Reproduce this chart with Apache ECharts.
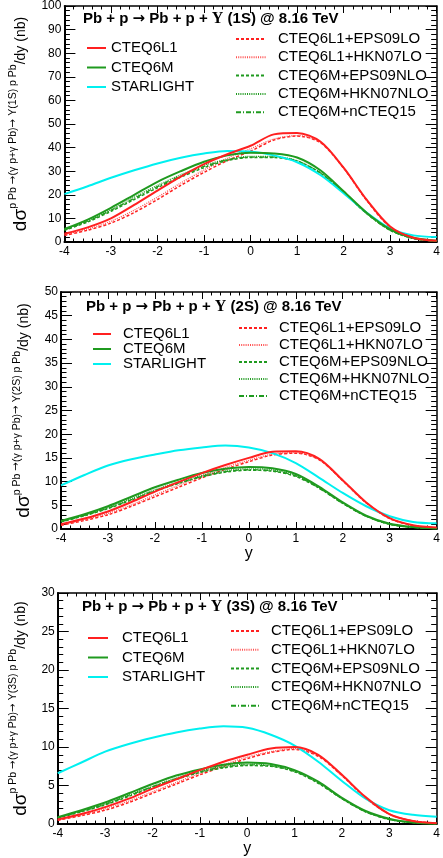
<!DOCTYPE html>
<html>
<head>
<meta charset="utf-8">
<script src="https://cdn.jsdelivr.net/npm/echarts@6/dist/echarts.min.js"></script>
<style>
  html, body { margin: 0; padding: 0; background: #fff; }
  #chart { width: 443px; height: 858px; }
</style>
</head>
<body>
<div id="chart"></div>
<script>
// rapidity grid (x values)
const rapidity = [-4, -3.5, -3, -2.5, -2, -1.5, -1, -0.5, 0, 0.5, 1, 1.5, 2, 2.5, 3, 3.5, 4];
const xTicks = [-4, 4, 1];

const names = ['CTEQ6L1', 'CTEQ6M', 'STARLIGHT',
  'CTEQ6L1+EPS09LO', 'CTEQ6L1+HKN07LO', 'CTEQ6M+EPS09NLO', 'CTEQ6M+HKN07NLO', 'CTEQ6M+nCTEQ15'];

// Upsilon(1S)
const s1_cteq6l1   = [3.5, 6.2, 10, 15.7, 21.8, 27.7, 33, 37.2, 40.8, 45.6, 46.2, 42.6, 31.5, 17.8, 6.6, 1.8, 0.5];
const s1_cteq6m    = [5.5, 9.5, 14.5, 20, 25.5, 30, 34, 36.7, 37.8, 37.5, 35.8, 30.4, 21.5, 12.3, 5.4, 1.8, 0.5];
const s1_starlight = [20.3, 23.6, 27.2, 30.4, 33.3, 35.7, 37.5, 38.6, 38.3, 36.7, 33.8, 28.4, 20.7, 12.4, 5.8, 2.8, 2.1];
const s1_l1_eps09  = [2.8, 5, 8, 12.5, 18, 24, 29.5, 34.5, 38.5, 43.2, 44.9, 42.1, 31.3, 17.5, 6.3, 1.6, 0.4];
const s1_l1_hkn07  = [3.2, 5.5, 8.8, 13.5, 19, 25, 30.5, 35.5, 39.5, 43.6, 45.1, 42.3, 31.4, 17.6, 6.4, 1.7, 0.4];
const s1_m_eps09   = [5, 8.5, 13, 18, 23, 27.5, 31.5, 34.5, 35.8, 35.8, 34.2, 29.2, 21, 12, 5, 1.5, 0.4];
const s1_m_hkn07   = [5.3, 9, 13.8, 19, 24, 28.5, 32.5, 35, 36.3, 36.2, 34.5, 29.4, 21, 12, 5, 1.5, 0.4];
const s1_m_ncteq15 = [5.1, 8.8, 13.4, 18.5, 23.5, 28, 32, 34.8, 36, 36, 34.3, 29.3, 21, 12, 5, 1.5, 0.4];

// Upsilon(2S)
const s2_cteq6l1   = [1.0, 2.2, 3.7, 5.7, 7.9, 9.9, 11.8, 13.5, 15, 16.3, 16.4, 14.8, 10.3, 5.6, 2.3, 0.8, 0.3];
const s2_cteq6m    = [1.7, 3.1, 4.8, 6.8, 8.8, 10.4, 11.8, 12.7, 13.1, 12.8, 11.6, 8.9, 5.6, 2.8, 1.1, 0.4, 0.1];
const s2_starlight = [9.2, 11.4, 13.4, 14.7, 15.7, 16.6, 17.2, 17.6, 17.2, 16, 13.9, 10.8, 7.6, 4.8, 2.7, 1.5, 1.2];
const s2_l1_eps09  = [0.8, 1.8, 3.0, 4.8, 6.8, 8.8, 10.8, 12.6, 14.2, 15.6, 16, 14.6, 10.2, 5.5, 2.2, 0.7, 0.2];
const s2_l1_hkn07  = [0.9, 2.0, 3.3, 5.1, 7.2, 9.2, 11.2, 13, 14.5, 15.8, 16.1, 14.6, 10.2, 5.5, 2.2, 0.7, 0.2];
const s2_m_eps09   = [1.5, 2.8, 4.3, 6.1, 8.0, 9.6, 11, 12, 12.4, 12.2, 11.1, 8.6, 5.4, 2.7, 1.0, 0.35, 0.1];
const s2_m_hkn07   = [1.6, 2.9, 4.5, 6.4, 8.3, 9.9, 11.3, 12.3, 12.7, 12.5, 11.3, 8.7, 5.5, 2.7, 1.0, 0.35, 0.1];
const s2_m_ncteq15 = [1.55, 2.85, 4.4, 6.2, 8.1, 9.7, 11.1, 12.1, 12.5, 12.3, 11.2, 8.6, 5.4, 2.7, 1.0, 0.35, 0.1];

// Upsilon(3S)
const s3_cteq6l1   = [0.6, 1.3, 2.2, 3.3, 4.6, 5.8, 7.0, 8.1, 9.0, 9.8, 10.0, 9.0, 6.4, 3.5, 1.3, 0.4, 0.1];
const s3_cteq6m    = [0.9, 1.8, 2.8, 4.0, 5.2, 6.3, 7.1, 7.7, 8.0, 7.8, 7.0, 5.5, 3.4, 1.7, 0.7, 0.2, 0.05];
const s3_starlight = [6.6, 8.0, 9.4, 10.4, 11.2, 11.9, 12.4, 12.7, 12.5, 11.6, 10.2, 8.1, 5.6, 3.3, 1.8, 1.2, 0.95];
const s3_l1_eps09  = [0.5, 1.1, 1.8, 2.8, 4.0, 5.2, 6.4, 7.5, 8.5, 9.3, 9.7, 8.8, 6.3, 3.4, 1.3, 0.4, 0.1];
const s3_l1_hkn07  = [0.55, 1.2, 2.0, 3.0, 4.2, 5.4, 6.6, 7.7, 8.7, 9.4, 9.8, 8.9, 6.3, 3.4, 1.3, 0.4, 0.1];
const s3_m_eps09   = [0.8, 1.6, 2.5, 3.6, 4.8, 5.8, 6.7, 7.3, 7.6, 7.5, 6.8, 5.3, 3.3, 1.6, 0.6, 0.2, 0.05];
const s3_m_hkn07   = [0.85, 1.7, 2.6, 3.8, 4.9, 6.0, 6.9, 7.5, 7.8, 7.6, 6.9, 5.4, 3.3, 1.6, 0.6, 0.2, 0.05];
const s3_m_ncteq15 = [0.82, 1.65, 2.55, 3.7, 4.85, 5.9, 6.8, 7.4, 7.7, 7.55, 6.85, 5.35, 3.3, 1.6, 0.6, 0.2, 0.05];

const yTicks = [[0, 100, 10], [0, 50, 5], [0, 30, 5]];
const states = ['1S', '2S', '3S'];

const panelData = [
  [s1_cteq6l1, s1_cteq6m, s1_starlight, s1_l1_eps09, s1_l1_hkn07, s1_m_eps09, s1_m_hkn07, s1_m_ncteq15],
  [s2_cteq6l1, s2_cteq6m, s2_starlight, s2_l1_eps09, s2_l1_hkn07, s2_m_eps09, s2_m_hkn07, s2_m_ncteq15],
  [s3_cteq6l1, s3_cteq6m, s3_starlight, s3_l1_eps09, s3_l1_hkn07, s3_m_eps09, s3_m_hkn07, s3_m_ncteq15]
];

const RED = '#ff2020', GREEN = '#1f9a1f', CYAN = '#00f0f0';
const lineStyles = [
  { color: RED, width: 2, type: 'solid' },
  { color: GREEN, width: 2, type: 'solid' },
  { color: CYAN, width: 2, type: 'solid' },
  { color: RED, width: 1.5, type: [3, 2] },
  { color: '#ff5050', width: 1.3, type: [1, 1.2] },
  { color: GREEN, width: 1.5, type: [3, 2] },
  { color: GREEN, width: 1.3, type: [1, 1.2] },
  { color: GREEN, width: 1.3, type: [5, 2, 1, 2] }
];

const FONT = 'Liberation Sans';
const grids = [
  { left: 60, top: 5, width: 380, height: 237 },
  { left: 61, top: 292, width: 380, height: 237 },
  { left: 55, top: 593, width: 382, height: 238 }
];
const legendLeft = [
  { left: 86, top: 40.5, itemWidth: 19, itemGap: 4.5, pad: 0 },
  { left: 92, top: 326.5, itemWidth: 18, itemGap: 0, pad: 7 },
  { left: 87, top: 630.5, itemWidth: 20, itemGap: 4.5, pad: 9 }
];
const legendRight = [
  { left: 235, top: 31.5, itemWidth: 30, itemGap: 3.3, pad: 7 },
  { left: 238, top: 320.5, itemWidth: 29, itemGap: 2, pad: 6 },
  { left: 230, top: 623.5, itemWidth: 28, itemGap: 3.7, pad: 7 }
];
const titlePos = [{ left: 83, top: 11 }, { left: 86, top: 299 }, { left: 82, top: 599 }];

const xAxes = [], yAxes = [], series = [], legends = [], titles = [];

grids.forEach((g, p) => {
  const tickBase = (len, minorLen) => ({
    axisTick: { show: true, inside: true, length: len, lineStyle: { color: '#000', width: 1 } },
    minorTick: { show: true, splitNumber: 5, length: minorLen, lineStyle: { color: '#000', width: 1 } },
    splitLine: { show: false }
  });
  xAxes.push(Object.assign({
    gridIndex: p, type: 'value', min: xTicks[0], max: xTicks[1], interval: xTicks[2],
    position: 'bottom',
    axisLine: { onZero: false, lineStyle: { color: '#000', width: 2 } },
    axisLabel: { color: '#000', fontFamily: FONT, fontSize: 12, margin: 4 },
    name: p === 0 ? '' : 'y', nameLocation: 'middle', nameGap: 7,
    nameTextStyle: { color: '#000', fontFamily: FONT, fontSize: 16, verticalAlign: 'top' }
  }, tickBase(7, 3.5)));
  xAxes.push(Object.assign({
    gridIndex: p, type: 'value', min: xTicks[0], max: xTicks[1], interval: xTicks[2],
    position: 'top',
    axisLine: { onZero: false, lineStyle: { color: '#000', width: 1.5 } },
    axisLabel: { show: false }
  }, tickBase(7, 3.5)));
  const yt = yTicks[p];
  yAxes.push(Object.assign({
    gridIndex: p, type: 'value', min: yt[0], max: yt[1], interval: yt[2],
    position: 'left',
    axisLine: { show: true, onZero: false, lineStyle: { color: '#000', width: 2 } },
    axisLabel: { color: '#000', fontFamily: FONT, fontSize: 12, margin: 3 },
    name: '{big|dσ}{sup|p Pb }{arr|→}{sup|(γ p+γ Pb)}{arr|→}{sup| Υ(' + states[p] + ') p Pb}{mid|/dy (nb)}',
    nameLocation: 'middle', nameRotate: 90, nameGap: 12,
    nameTextStyle: {
      color: '#000', fontFamily: FONT,
      rich: {
        big: { fontSize: 19, fontFamily: FONT, color: '#000', lineHeight: 26, verticalAlign: 'middle' },
        mid: { fontSize: 14, fontFamily: FONT, color: '#000', lineHeight: 26, verticalAlign: 'middle' },
        sup: { fontSize: 10.5, fontFamily: FONT, color: '#000', lineHeight: 13, verticalAlign: 'top' },
        arr: { fontSize: 10.5, fontFamily: 'DejaVu Sans', color: '#000', lineHeight: 13, verticalAlign: 'top' }
      }
    }
  }, tickBase(11, 5.5)));
  yAxes.push(Object.assign({
    gridIndex: p, type: 'value', min: yt[0], max: yt[1], interval: yt[2],
    position: 'right',
    axisLine: { show: true, onZero: false, lineStyle: { color: '#000', width: 1.5 } },
    axisLabel: { show: false }
  }, tickBase(11, 5.5)));

  // draw solid central curves on top of the nuclear-PDF variants
  const order = [3, 4, 5, 6, 7, 2, 1, 0];
  order.forEach(k => {
    series.push({
      type: 'line', name: names[k],
      xAxisIndex: 2 * p, yAxisIndex: 2 * p,
      data: rapidity.map((x, i) => [x, panelData[p][k][i]]),
      smooth: 0.3, symbol: 'none',
      lineStyle: lineStyles[k], itemStyle: { color: lineStyles[k].color },
      silent: true
    });
  });

  const legText = pad => ({ color: '#000', fontFamily: FONT, fontSize: 15, padding: [0, 0, 0, pad] });
  const legIcon = { opacity: 0, color: 'transparent', borderWidth: 0 };
  const L = legendLeft[p], R = legendRight[p];
  legends.push({
    data: names.slice(0, 3), orient: 'vertical', left: L.left, top: L.top,
    itemWidth: L.itemWidth, itemHeight: 14, itemGap: L.itemGap, padding: 0,
    selectedMode: false, itemStyle: legIcon, textStyle: legText(L.pad)
  });
  legends.push({
    data: names.slice(3), orient: 'vertical', left: R.left, top: R.top,
    itemWidth: R.itemWidth, itemHeight: 14, itemGap: R.itemGap, padding: 0,
    selectedMode: false, itemStyle: legIcon, textStyle: legText(R.pad)
  });

  titles.push({
    left: titlePos[p].left, top: titlePos[p].top, padding: 0,
    text: '{b|Pb + p }{a|→}{b| Pb + p + }{u|Υ}{b| (' + states[p] + ') @ 8.16 TeV}',
    textStyle: {
      rich: {
        b: { fontFamily: FONT, fontWeight: 'bold', fontSize: 15, color: '#000' },
        a: { fontFamily: 'DejaVu Sans', fontSize: 15, color: '#000' },
        u: { fontFamily: 'Liberation Serif', fontSize: 16, color: '#000' }
      }
    }
  });
});

const chart = echarts.init(document.getElementById('chart'), null, { renderer: 'canvas' });
chart.setOption({
  animation: false,
  backgroundColor: '#fff',
  title: titles,
  legend: legends,
  grid: grids,
  xAxis: xAxes,
  yAxis: yAxes,
  series: series
});
</script>
</body>
</html>
